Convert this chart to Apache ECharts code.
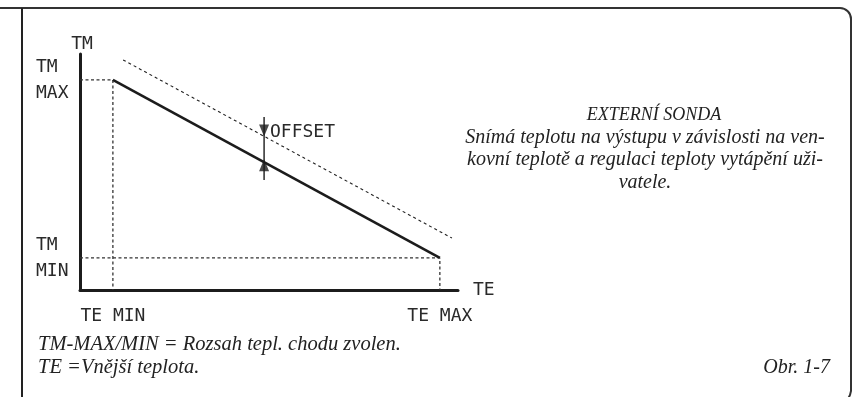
<!DOCTYPE html>
<html>
<head>
<meta charset="utf-8">
<script src="https://cdn.jsdelivr.net/npm/echarts@6/dist/echarts.min.js"></script>
<style>
html,body{margin:0;padding:0;background:#fff;}
#chart{width:854px;height:397px;}
</style>
</head>
<body>
<div id="chart"></div>
<script>
// values, axes run 0..100
var teRange = [8.7, 95.2];      // TE MIN, TE MAX
var tmRange = [13.6, 89.0];     // TM MIN, TM MAX
var teLabels = ['TE MIN', 'TE MAX'];
var tmLabels = ['TM\nMAX', 'TM\nMIN'];
var offsetLineX = [11.4, 98.4];
var offsetLineY = [97.5, 22.0];
var arrowX = 48.7;
var arrowSpan = [46.6, 73.3];
var arrowTips = [65.0, 54.1];   // dashed line, solid line

var noteLines = [
    'EXTERNÍ SONDA',
    'Snímá teplotu na výstupu v závislosti na ven-',
    'kovní teplotě a regulaci teploty vytápění uži-',
    'vatele.'
];
var footLines = ['TM-MAX/MIN = Rozsah tepl. chodu zvolen.', 'TE =Vnější teplota.'];
var figLabel = 'Obr. 1-7';

var ink = '#1c1c1c';
var labelInk = '#2a2a2a';
var sans = 'DejaVu Sans Mono';
var serif = 'Liberation Serif';

var myChart = echarts.init(document.getElementById('chart'), null, {renderer: 'canvas'});

function guide(points){
    return {
        type: 'line',
        data: points,
        symbol: 'none',
        silent: true,
        lineStyle: {color: '#333', width: 1.3, type: [3, 2.5]}
    };
}

var serifFont = function(size){ return 'italic ' + size + 'px "' + serif + '"'; };
var frameStyle = {fill: null, stroke: '#333', lineWidth: 2};

var graphics = [
    // frame
    {type: 'polyline', shape: {points: [[0, 8], [840, 8]]}, style: frameStyle},
    {type: 'arc', shape: {cx: 840, cy: 19, r: 11, startAngle: -Math.PI / 2, endAngle: 0, clockwise: true}, style: frameStyle},
    {type: 'polyline', shape: {points: [[851, 19], [851, 391], [850, 395], [848, 399]]}, style: frameStyle},
    {type: 'line', shape: {x1: 22, y1: 8, x2: 22, y2: 397}, style: {stroke: '#222', lineWidth: 2}},
    {type: 'text', x: 270, y: 132, style: {text: 'OFFSET', font: '18px "' + sans + '"', fill: labelInk, textVerticalAlign: 'middle'}}
];
noteLines.forEach(function(t, i){
    graphics.push({type: 'text', x: i === 0 ? 654 : 645, y: 115 + i * 22.5,
        style: {text: t, font: serifFont(i === 0 ? 18 : 20), fill: '#222', textAlign: 'center', textVerticalAlign: 'middle'}});
});
footLines.forEach(function(t, i){
    graphics.push({type: 'text', x: 38, y: 345 + i * 23,
        style: {text: t, font: serifFont(20.5), fill: '#222', textAlign: 'left', textVerticalAlign: 'middle'}});
});
graphics.push({type: 'text', x: 830, y: 368,
    style: {text: figLabel, font: serifFont(20), fill: '#222', textAlign: 'right', textVerticalAlign: 'middle'}});

var option = {
    animation: false,
    backgroundColor: '#fff',
    grid: {left: 80, top: 54, width: 378, height: 236, containLabel: false},
    xAxis: {
        type: 'value', min: 0, max: 100,
        name: 'TE', nameLocation: 'end', nameGap: 15,
        nameTextStyle: {fontFamily: sans, fontSize: 18, color: labelInk, verticalAlign: 'middle'},
        axisLine: {show: true, lineStyle: {color: ink, width: 3}},
        axisTick: {show: false},
        splitLine: {show: false},
        axisLabel: {
            customValues: teRange,
            fontFamily: sans, fontSize: 18, color: labelInk, margin: 17,
            formatter: function(v){ return v === teRange[0] ? teLabels[0] : teLabels[1]; }
        }
    },
    yAxis: {
        type: 'value', min: 0, max: 100,
        name: 'TM', nameLocation: 'end', nameGap: 10,
        nameTextStyle: {fontFamily: sans, fontSize: 18, color: labelInk, align: 'center', verticalAlign: 'middle', padding: [0, 0, 0, 4]},
        axisLine: {show: true, lineStyle: {color: ink, width: 3}},
        axisTick: {show: false},
        splitLine: {show: false},
        axisLabel: {
            customValues: tmRange,
            fontFamily: sans, fontSize: 18, color: labelInk, margin: 44, align: 'left', lineHeight: 26,
            formatter: function(v){ return v === tmRange[1] ? tmLabels[0] : tmLabels[1]; }
        }
    },
    series: [
        guide([[0, tmRange[1]], [teRange[0], tmRange[1]], [teRange[0], 0]]),
        guide([[0, tmRange[0]], [teRange[1], tmRange[0]], [teRange[1], 0]]),
        {
            type: 'line',
            data: [[offsetLineX[0], offsetLineY[0]], [offsetLineX[1], offsetLineY[1]]],
            symbol: 'none', silent: true,
            lineStyle: {color: '#222', width: 1.1, type: [3, 3]}
        },
        {
            type: 'line',
            data: [[teRange[0], tmRange[1]], [teRange[1], tmRange[0]]],
            symbol: 'none', silent: true,
            lineStyle: {color: ink, width: 2.6}
        },
        {
            type: 'line',
            data: [[arrowX, arrowSpan[0]], [arrowX, arrowSpan[1]]],
            symbol: 'none', silent: true,
            lineStyle: {color: ink, width: 1.4}
        },
        {
            type: 'scatter',
            silent: true,
            itemStyle: {color: ink},
            data: [
                {value: [arrowX, arrowTips[0]], symbol: 'triangle', symbolSize: [10, 12], symbolRotate: 180, symbolOffset: [0, -6]},
                {value: [arrowX, arrowTips[1]], symbol: 'triangle', symbolSize: [10, 12], symbolOffset: [0, 3]}
            ]
        }
    ],
    graphic: graphics
};
myChart.setOption(option);
</script>
</body>
</html>
